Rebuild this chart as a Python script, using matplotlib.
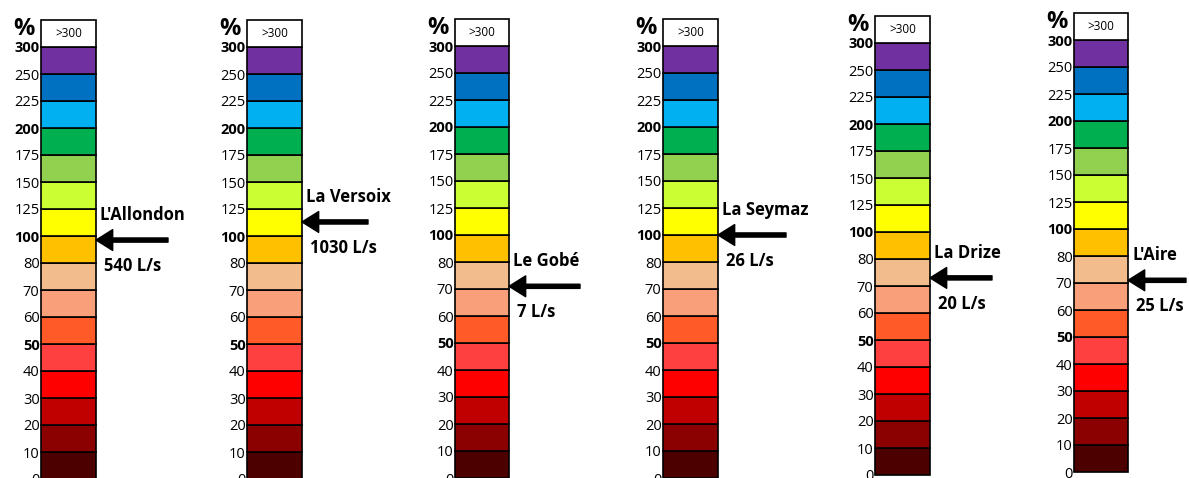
import numpy as np
from matplotlib import pyplot as plt

plt.rcParams['font.family'] = ['Open Sans', 'DejaVu Sans']

# class limits (%) and colours, bottom to top
bounds = [0, 10, 20, 30, 40, 50, 60, 70, 80, 100, 125, 150, 175, 200, 225, 250, 300]
colors = ['#4d0000', '#8b0000', '#c00000', '#ff0000', '#ff4040', '#ff5a28',
          '#f9a07a', '#f2bc8c', '#ffc000', '#ffff00', '#ccff33', '#92d050',
          '#00b050', '#00b0f0', '#0070c0', '#7030a0']
bold_ticks = [300, 200, 100, 50]

rivers = ["L'Allondon", "La Versoix", "Le Gobé", "La Seymaz", "La Drize", "L'Aire"]
percent = [97, 113, 71, 100, 73, 71]
flows = ["540 L/s", "1030 L/s", "7 L/s", "26 L/s", "20 L/s", "25 L/s"]

# layout, in pixels: bar left, bar right, y of the 300 line, arrow length
W, H = 1189, 478
band = 27
cols = [(41, 96, 47, 72), (247, 302, 47, 66), (455, 509, 46, 71),
        (663, 718, 46, 68), (875, 930, 43, 62), (1074, 1128, 40, 58)]

edges = bounds + [350]
idx = np.arange(len(edges))


def fwd(v):
    return np.interp(v, edges, idx)


def inv(i):
    return np.interp(i, idx, edges)


fig = plt.figure(figsize=(W / 100, H / 100), dpi=100)

for k, (x0, x1, ytop, alen) in enumerate(cols):
    ybot = ytop + 16 * band
    ax = fig.add_axes([x0 / W, 1 - ybot / H, (x1 - x0) / W, 17 * band / H])
    ax.set_yscale('function', functions=(fwd, inv))
    ax.bar(0.5, np.diff(bounds), bottom=bounds[:-1], width=1, color=colors,
           edgecolor='black', linewidth=1.2, clip_on=False)
    ax.bar(0.5, 50, bottom=300, width=1, color='white', edgecolor='black',
           linewidth=1.2, clip_on=False)
    ax.text(0.5, 325, '>300', ha='center', va='center', fontsize=8.5)
    ax.text(-0.11, 334, '%', ha='right', va='center', fontsize=17,
            fontweight='bold')
    ax.set_xlim(0, 1)
    ax.set_ylim(0, 350)
    ax.set_yticks(bounds)
    ax.set_yticklabels([str(b) for b in bounds], fontsize=10.5)
    for lab, b in zip(ax.get_yticklabels(), bounds):
        if b in bold_ticks:
            lab.set_fontweight('bold')
    ax.tick_params(axis='y', length=0, pad=1)
    ax.set_xticks([])
    for s in ax.spines.values():
        s.set_visible(False)

    p = percent[k]
    ax.annotate('', xy=(1, p), xytext=(alen, 0), textcoords='offset pixels',
                xycoords=('axes fraction', 'data'),
                arrowprops=dict(width=3, headwidth=15, headlength=12,
                                facecolor='black', edgecolor='black'))
    ax.annotate(rivers[k], xy=(1, p), xytext=(4, 25),
                xycoords=('axes fraction', 'data'), textcoords='offset pixels',
                ha='left', va='center', fontsize=12, fontweight='bold')
    ax.annotate(flows[k], xy=(1, p), xytext=(8, -26),
                xycoords=('axes fraction', 'data'), textcoords='offset pixels',
                ha='left', va='center', fontsize=12, fontweight='bold')

plt.savefig('out.png', dpi=100)
